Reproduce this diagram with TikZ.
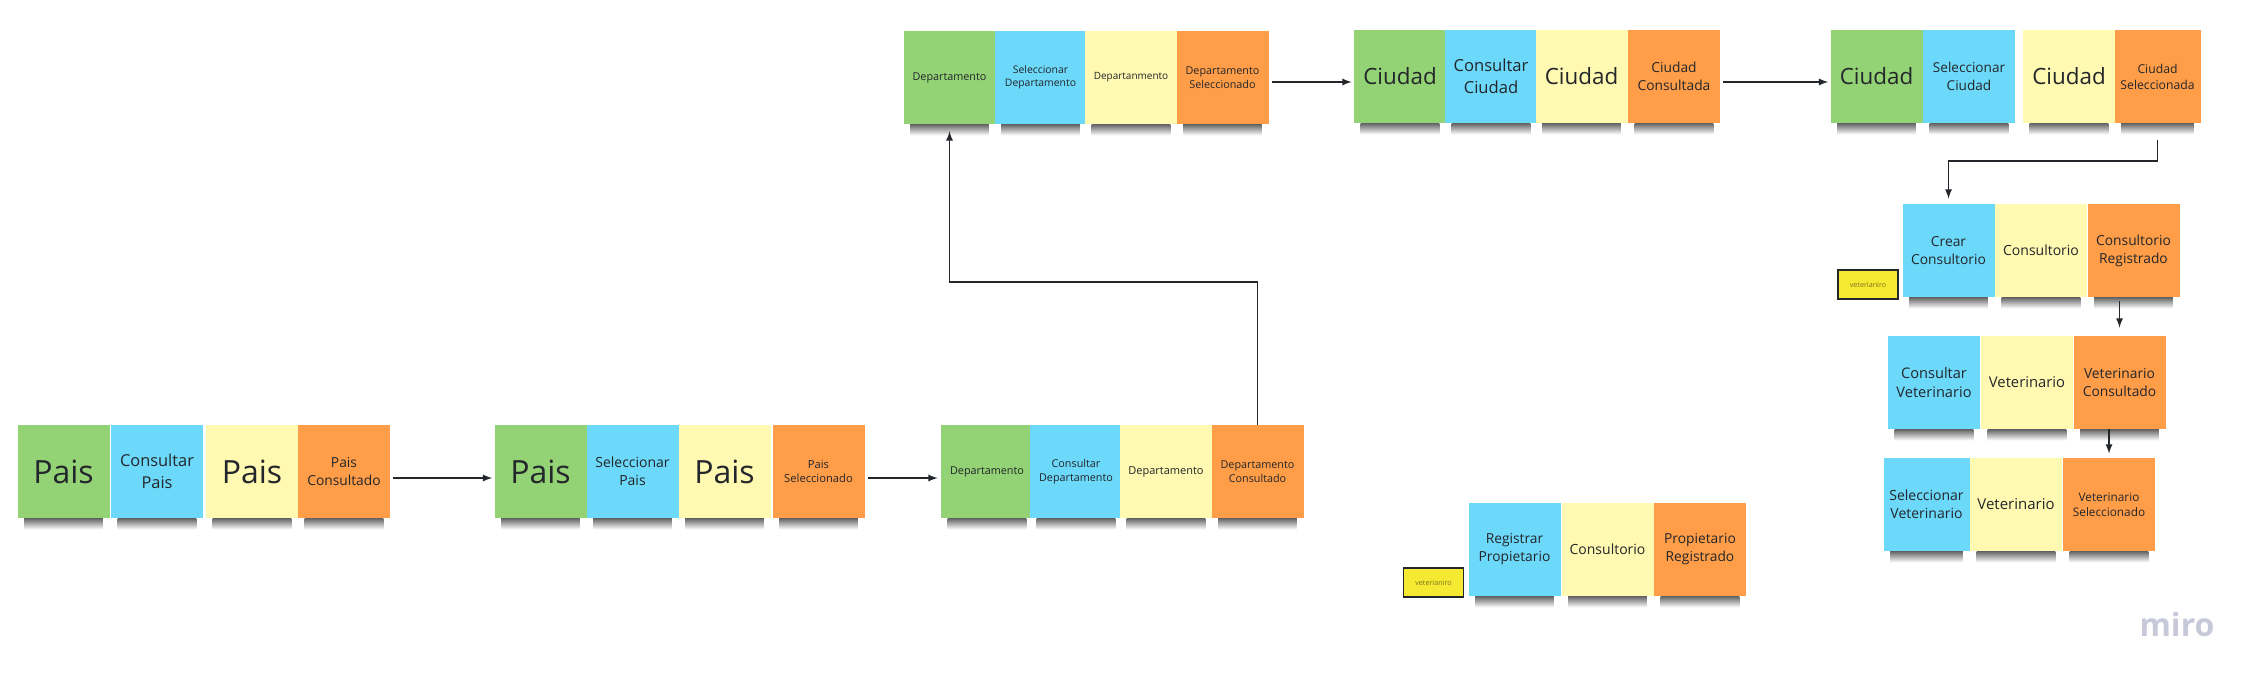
\documentclass[tikz,border=0pt]{standalone}
\usepackage{fontspec}
\setmainfont{Open Sans}
\usepackage{xcolor}

\definecolor{verde}{RGB}{147,210,117}
\definecolor{azul}{RGB}{108,216,250}
\definecolor{amarillo}{RGB}{255,249,177}
\definecolor{naranja}{RGB}{255,157,72}
\definecolor{amarillorol}{RGB}{245,234,49}
\definecolor{texto}{RGB}{35,38,42}
\definecolor{olivo}{RGB}{125,115,30}
\definecolor{gris}{RGB}{200,201,216}

\newcommand{\fs}[1]{\fontsize{#1}{\fpeval{1.3*#1}}\selectfont}

\tikzset{
  nota/.style={minimum width=46pt, minimum height=46.5pt, inner sep=1pt, align=center, text=texto,
    append after command={\pgfextra{\shade[top color=black!60, bottom color=white]
      ([xshift=3.5pt]\tikzlastnode.south west) rectangle ([xshift=-3.5pt,yshift=-5.5pt]\tikzlastnode.south east);}}},
  notaV/.style={nota, fill=verde},
  notaA/.style={nota, fill=azul},
  notaY/.style={nota, fill=amarillo},
  notaN/.style={nota, fill=naranja},
  rol/.style={draw=texto, line width=0.9pt, fill=amarillorol, minimum width=30pt, minimum height=14.5pt,
    inner sep=0pt, font=\fs{3.6}, text=olivo},
  flecha/.style={->, >=latex, line width=0.6pt, draw=texto}
}

\begin{document}
\begin{tikzpicture}[x=0.5pt, y=-0.5pt]
\useasboundingbox (0,0) rectangle (2266,689);

% pais
\node[notaV, font=\fs{16}] (pcA) at (63.5,471.5) {Pais};
\node[notaA, font=\fs{8.2}] (pcB) at (157,471.5) {Consultar\\Pais};
\node[notaY, font=\fs{16}] (pcC) at (252,471.5) {Pais};
\node[notaN, font=\fs{6.9}] (pcD) at (344,471.5) {Pais\\Consultado};

\node[notaV, font=\fs{16}] (psA) at (540.5,471.5) {Pais};
\node[notaA, font=\fs{7}] (psB) at (632.5,471.5) {Seleccionar\\Pais};
\node[notaY, font=\fs{16}] (psC) at (724.5,471.5) {Pais};
\node[notaN, font=\fs{5.6}] (psD) at (818.5,471.5) {Pais\\Seleccionado};

% departamento
\node[notaV, font=\fs{5.4}] (dcA) at (987,471.5) {Departamento};
\node[notaA, font=\fs{5.4}] (dcB) at (1076,471.5) {Consultar\\Departamento};
\node[notaY, font=\fs{5.5}] (dcC) at (1166,471.5) {Departamento};
\node[notaN, font=\fs{5.4}] (dcD) at (1257.5,471.5) {Departamento\\Consultado};

\node[notaV, font=\fs{5.4}] (dsA) at (949.5,77.5) {Departamento};
\node[notaA, font=\fs{5.2}] (dsB) at (1040.5,77.5) {Seleccionar\\Departamento};
\node[notaY, font=\fs{5}] (dsC) at (1131,77.5) {Departanmento};
\node[notaN, font=\fs{5.4}] (dsD) at (1222.5,77.5) {Departamento\\Seleccionado};

% ciudad
\node[notaV, font=\fs{11.2}] (ccA) at (1400,76.5) {Ciudad};
\node[notaA, font=\fs{8.3}] (ccB) at (1491,76.5) {Consultar\\Ciudad};
\node[notaY, font=\fs{11.2}] (ccC) at (1581.5,76.5) {Ciudad};
\node[notaN, font=\fs{6.9}] (ccD) at (1674,76.5) {Ciudad\\Consultada};

\node[notaV, font=\fs{11.2}] (csA) at (1876.5,76.5) {Ciudad};
\node[notaA, font=\fs{6.8}] (csB) at (1969,76.5) {Seleccionar\\Ciudad};
\node[notaY, font=\fs{11.2}] (csC) at (2069,76.5) {Ciudad};
\node[notaN, minimum width=43pt, font=\fs{6.1}] (csD) at (2157.5,76.5) {Ciudad\\Seleccionada};

% consultorio
\node[notaA, font=\fs{6.9}] (crA) at (1948.5,250.5) {Crear\\Consultorio};
\node[notaY, font=\fs{7}] (crB) at (2041,250.5) {Consultorio};
\node[notaN, font=\fs{6.9}] (crC) at (2133.5,250.5) {Consultorio\\Registrado};
\node[rol] (vet1) at (1868,284.5) {veterianiro};

% veterinario
\node[notaA, font=\fs{7.3}] (vcA) at (1934,382.5) {Consultar\\Veterinario};
\node[notaY, font=\fs{7.4}] (vcB) at (2027,382.5) {Veterinario};
\node[notaN, font=\fs{6.9}] (vcC) at (2119.5,382.5) {Veterinario\\Consultado};

\node[notaA, minimum width=43pt, font=\fs{7}] (vsA) at (1926.5,504.5) {Seleccionar\\Veterinario};
\node[notaY, font=\fs{7.5}] (vsB) at (2016,504.5) {Veterinario};
\node[notaN, font=\fs{5.9}] (vsC) at (2109,504.5) {Veterinario\\Seleccionado};

% propietario
\node[notaA, font=\fs{6.9}] (prA) at (1514.5,549.5) {Registrar\\Propietario};
\node[notaY, font=\fs{7}] (prB) at (1607.5,549.5) {Consultorio};
\node[notaN, font=\fs{6.9}] (prC) at (1700,549.5) {Propietario\\Registrado};
\node[rol] (vet2) at (1433.5,582.5) {veterianiro};

\node[text=gris, font=\fontsize{16}{16}\selectfont\bfseries] (miro) at (2177,624) {miro};

% flechas
\draw[flecha, shorten <=1.5pt, shorten >=1pt] (pcD.east |- 0,478) -- (psA.west |- 0,478);
\draw[flecha, shorten <=1.5pt, shorten >=1.5pt] (psD.east |- 0,478) -- (dcA.west |- 0,478);
\draw[flecha, shorten >=3.5pt] (dcD.north) -- (dcD.north |- 0,282) -| (dsA.south);
\draw[flecha, shorten <=1.5pt, shorten >=1pt] (dsD.east |- 0,82) -- (ccA.west |- 0,82);
\draw[flecha, shorten <=1.5pt, shorten >=1pt] (ccD.east |- 0,82) -- (csA.west |- 0,82);
\draw[flecha, shorten <=8.5pt, shorten >=2.5pt] (csD.south) -- (csD.south |- 0,161) -| (crA.north);
\draw[flecha, shorten <=2pt, shorten >=4pt] (vcC.north |- crC.south) -- (vcC.north);
\draw[flecha, shorten >=2pt] (vsC.north |- vcC.south) -- (vsC.north);
\end{tikzpicture}
\end{document}
